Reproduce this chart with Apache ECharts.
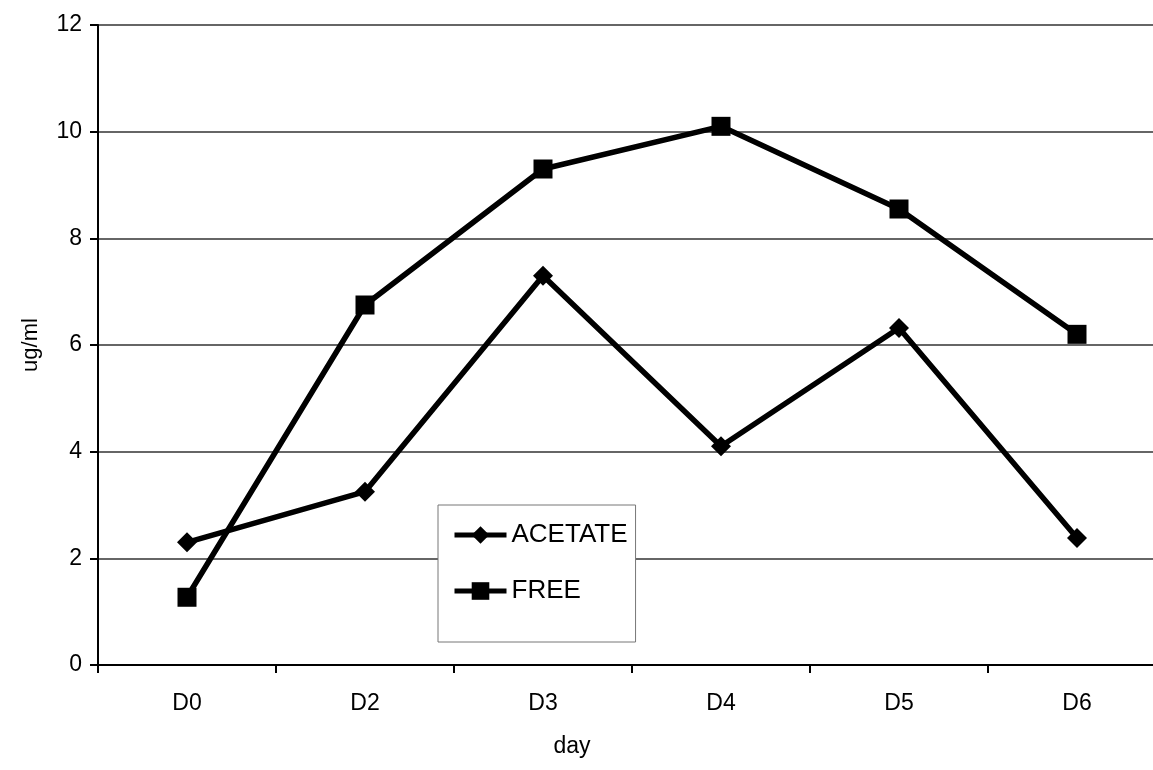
<!DOCTYPE html>
<html>
<head>
<meta charset="utf-8">
<script src="https://cdn.jsdelivr.net/npm/echarts@6/dist/echarts.min.js"></script>
<style>
html,body{margin:0;padding:0;background:#fff;overflow:hidden;}
#c{width:1153px;height:770px;}
</style>
</head>
<body>
<div id="c"></div>
<script>
const categories = ['D0', 'D2', 'D3', 'D4', 'D5', 'D6'];
const acetate = [2.3, 3.25, 7.3, 4.1, 6.32, 2.38];
const free = [1.27, 6.75, 9.3, 10.1, 8.55, 6.2];
const yTicks = { min: 0, max: 12, interval: 2 };

const chart = echarts.init(document.getElementById('c'), null, { renderer: 'canvas' });
const font = 'Liberation Sans, Arial, sans-serif';
chart.setOption({
  backgroundColor: '#ffffff',
  animation: false,
  grid: { left: 98, width: 1068, top: 25, height: 640, containLabel: false, outerBoundsMode: 'none' },
  legend: {
    orient: 'vertical',
    left: 438,
    top: 505,
    itemWidth: 52,
    itemHeight: 22,
    itemGap: 30,
    padding: [17, 8, 38, 14],
    borderColor: '#777',
    borderWidth: 1,
    backgroundColor: '#fff',
    textStyle: { fontFamily: font, fontSize: 26, color: '#000' },
    data: [
      { name: 'ACETATE', lineStyle: { width: 5, color: '#000' } },
      { name: 'FREE', lineStyle: { width: 5, color: '#000' } }
    ]
  },
  xAxis: {
    type: 'category',
    data: categories,
    boundaryGap: true,
    name: 'day',
    nameLocation: 'middle',
    nameGap: 70,
    nameTextStyle: { fontFamily: font, fontSize: 23, color: '#000', padding: [0, 120, 0, 0] },
    axisLine: { lineStyle: { color: '#000', width: 2 } },
    axisTick: { show: true, length: 8, lineStyle: { color: '#000', width: 2 } },
    axisLabel: { fontFamily: font, fontSize: 23, color: '#000', margin: 27 },
    splitLine: { show: false }
  },
  yAxis: {
    type: 'value',
    min: yTicks.min,
    max: yTicks.max,
    interval: yTicks.interval,
    name: 'ug/ml',
    nameLocation: 'middle',
    nameGap: 56,
    nameRotate: 90,
    nameTextStyle: { fontFamily: font, fontSize: 22, color: '#000' },
    axisLine: { show: true, lineStyle: { color: '#000', width: 2 } },
    axisTick: { show: true, length: 8, lineStyle: { color: '#000', width: 2 } },
    axisLabel: { fontFamily: font, fontSize: 23, color: '#000', margin: 16 },
    splitLine: { show: true, lineStyle: { color: '#333', width: 1.5 } }
  },
  series: [
    {
      name: 'ACETATE',
      type: 'line',
      data: acetate,
      symbol: 'diamond',
      symbolSize: 20,
      lineStyle: { color: '#000', width: 5.5 },
      itemStyle: { color: '#000' }
    },
    {
      name: 'FREE',
      type: 'line',
      data: free,
      symbol: 'rect',
      symbolSize: 19,
      lineStyle: { color: '#000', width: 5.5 },
      itemStyle: { color: '#000' }
    }
  ]
});
</script>
</body>
</html>
